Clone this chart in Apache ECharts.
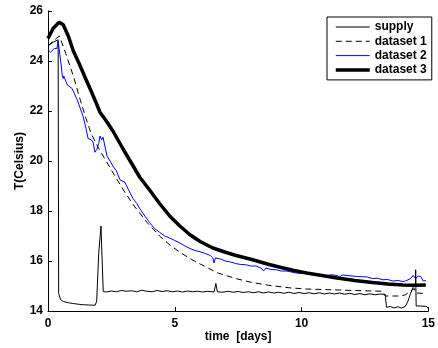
<!DOCTYPE html>
<html>
<head>
<meta charset="utf-8">
<script src="https://cdn.jsdelivr.net/npm/echarts@6/dist/echarts.min.js"></script>
<style>
html,body{margin:0;padding:0;background:#fff;}
#chart{width:438px;height:348px;}
</style>
</head>
<body>
<div id="chart"></div>
<script>
// Values: [time (days), temperature (Celsius)]
var seriesNames = ['supply', 'dataset 1', 'dataset 2', 'dataset 3'];
var xTicks = [0, 5, 10, 15];
var yTicks = [14, 16, 18, 20, 22, 24, 26];

var supply = [
  [0,24.6],[0.2,24.75],[0.4,24.85],[0.42,14.7],[0.5,14.45],[0.6,14.38],[0.8,14.33],[1.0,14.3],
  [1.2,14.27],[1.4,14.25],[1.6,14.24],[1.86,14.23],[1.92,14.4],[2.0,16.3],[2.09,17.4],[2.15,15.6],
  [2.18,14.78],[2.3,14.76],[2.5,14.8],[2.7,14.77],[2.9,14.82],[3.1,14.79],[3.3,14.81],[3.5,14.77],
  [3.7,14.83],[3.9,14.79],[4.1,14.77],[4.3,14.82],[4.5,14.78],[4.7,14.81],[4.9,14.77],[5.1,14.8],
  [5.3,14.76],[5.5,14.8],[5.7,14.77],[5.9,14.79],[6.1,14.76],[6.3,14.79],[6.55,14.76],[6.62,15.1],
  [6.68,14.77],[6.9,14.75],[7.1,14.79],[7.3,14.75],[7.5,14.78],[7.7,14.74],[7.9,14.77],[8.1,14.73],
  [8.3,14.77],[8.5,14.72],[8.7,14.76],[8.9,14.72],[9.1,14.75],[9.3,14.71],[9.5,14.75],[9.7,14.7],
  [9.9,14.74],[10.1,14.7],[10.3,14.73],[10.5,14.69],[10.7,14.73],[10.9,14.68],[11.1,14.72],[11.3,14.68],
  [11.5,14.72],[11.7,14.67],[11.9,14.71],[12.1,14.66],[12.3,14.7],[12.5,14.65],[12.7,14.69],[12.9,14.65],
  [13.1,14.68],[13.3,14.66],[13.35,14.15],[13.5,14.18],[13.65,14.12],[13.8,14.17],[13.95,14.12],[14.09,14.18],
  [14.2,14.4],[14.3,14.7],[14.42,15.0],[14.5,15.0],[14.5,15.65],[14.52,14.2],[14.7,14.2],[14.95,14.18],[15.0,14.1]
];

var dataset1 = [
  [0,24.6],[0.2,24.8],[0.45,25.0],[0.7,24.3],[1.0,23.4],[1.27,22.45],[1.5,21.7],[1.7,21.1],
  [2.0,20.5],[2.32,19.95],[2.64,19.4],[3.0,18.8],[3.4,18.2],[3.9,17.55],[4.4,17.0],[4.8,16.65],
  [5.2,16.35],[5.6,16.1],[6.0,15.88],[6.7,15.52],[7.4,15.3],[8.0,15.15],[8.7,15.03],[9.5,14.93],
  [10.2,14.88],[10.8,14.86],[11.5,14.84],[12.1,14.82],[12.8,14.8],[13.2,14.79],[13.3,14.6],[13.9,14.6],
  [14.1,14.65],[14.3,14.8],[14.45,14.9],[14.5,14.72],[14.9,14.7]
];

var dataset2 = [
  [0,24.45],[0.1,24.35],[0.17,24.33],[0.25,24.5],[0.29,24.57],[0.35,24.5],[0.4,24.8],[0.5,24.0],
  [0.56,23.45],[0.6,23.3],[0.62,23.4],[0.76,23.05],[0.95,22.9],[1.15,22.45],[1.38,21.8],[1.5,21.3],
  [1.58,20.9],[1.7,20.85],[1.78,20.75],[1.85,20.35],[1.93,20.47],[2.0,20.7],[2.05,21.0],[2.12,20.85],
  [2.17,20.95],[2.33,20.19],[2.45,20.0],[2.56,19.8],[2.7,19.6],[2.84,19.25],[3.03,19.15],[3.2,18.8],
  [3.35,18.5],[3.5,18.3],[3.65,18.05],[3.82,17.8],[4.0,17.55],[4.2,17.3],[4.4,17.15],[4.6,17.0],
  [4.8,16.92],[5.0,16.82],[5.2,16.72],[5.4,16.6],[5.6,16.5],[5.8,16.42],[6.0,16.37],[6.2,16.3],
  [6.4,16.22],[6.5,16.12],[6.55,15.92],[6.6,16.12],[6.8,16.08],[7.0,16.0],[7.2,15.96],[7.4,15.9],
  [7.6,15.86],[7.8,15.85],[8.0,15.8],[8.2,15.8],[8.4,15.72],[8.5,15.6],[8.6,15.72],[8.8,15.66],
  [9.0,15.65],[9.2,15.6],[9.4,15.6],[9.6,15.56],[9.8,15.52],[10.0,15.5],[10.2,15.5],[10.4,15.47],
  [10.6,15.5],[10.8,15.44],[11.0,15.42],[11.2,15.45],[11.4,15.42],[11.5,15.36],[11.6,15.44],[11.8,15.42],
  [12.0,15.4],[12.2,15.38],[12.4,15.37],[12.6,15.36],[12.8,15.3],[13.0,15.31],[13.2,15.25],[13.4,15.26],
  [13.6,15.2],[13.8,15.22],[14.0,15.18],[14.1,15.2],[14.3,15.3],[14.4,15.42],[14.5,15.3],[14.6,15.4],
  [14.7,15.38],[14.8,15.2],[14.9,15.22]
];

var dataset3 = [
  [0,24.9],[0.2,25.3],[0.44,25.55],[0.6,25.45],[0.8,25.0],[1.0,24.4],[1.25,23.85],[1.46,23.35],
  [1.7,22.8],[1.93,22.25],[2.05,21.95],[2.3,21.6],[2.56,21.2],[2.95,20.5],[3.3,19.9],[3.62,19.35],
  [4.0,18.85],[4.4,18.3],[4.8,17.8],[5.2,17.4],[5.6,17.05],[6.0,16.78],[6.5,16.52],[7.0,16.35],
  [7.42,16.22],[8.0,16.07],[8.72,15.86],[9.2,15.74],[9.7,15.62],[10.2,15.52],[10.8,15.42],[11.4,15.32],
  [12.1,15.22],[12.8,15.14],[13.4,15.08],[14.0,15.04],[14.5,15.03],[14.9,15.04]
];

var font = 'Liberation Sans, Arial, Helvetica, sans-serif';
var lineWidths = [1, 1, 1, 3.5];
var lineTypes = ['solid', [6, 4], 'solid', 'solid'];
var lineColors = ['#000', '#000', '#0000ff', '#000'];

var chart = echarts.init(document.getElementById('chart'), null, {renderer: 'canvas'});
chart.setOption({
  animation: false,
  backgroundColor: '#ffffff',
  grid: {left: 48, right: 8, top: 11, bottom: 35, containLabel: false},
  legend: {
    orient: 'vertical',
    left: 327, top: 17,
    data: seriesNames.map(function (n, i) {
      return {name: n, itemStyle: {opacity: 0},
        lineStyle: {width: lineWidths[i], type: lineTypes[i], color: lineColors[i]}};
    }),
    itemWidth: 34, itemHeight: 12, itemGap: 2.3,
    padding: [4, 5, 4, 7],
    borderColor: '#000', borderWidth: 1, borderRadius: 0,
    backgroundColor: '#fff',
    itemStyle: {opacity: 0},
    textStyle: {fontFamily: font, fontWeight: 'bold', fontSize: 12, color: '#000'}
  },
  xAxis: {
    type: 'value', min: xTicks[0], max: xTicks[xTicks.length - 1], interval: 5,
    name: 'time  [days]', nameLocation: 'middle', nameGap: 20, nameMoveOverlap: false,
    nameTextStyle: {fontFamily: font, fontWeight: 'bold', fontSize: 12, color: '#000'},
    axisLine: {show: true, lineStyle: {color: '#000', width: 1}},
    axisTick: {show: true, inside: true, length: 4, lineStyle: {color: '#000'}},
    axisLabel: {fontFamily: font, fontWeight: 'bold', fontSize: 12, color: '#000', margin: 7},
    splitLine: {show: false}
  },
  yAxis: {
    type: 'value', min: yTicks[0], max: yTicks[yTicks.length - 1], interval: 2,
    name: 'T(Celsius)', nameLocation: 'middle', nameGap: 22, nameRotate: 90, nameMoveOverlap: false,
    nameTextStyle: {fontFamily: font, fontWeight: 'bold', fontSize: 12, color: '#000'},
    axisLine: {show: true, lineStyle: {color: '#000', width: 1}},
    axisTick: {show: true, inside: true, length: 4, lineStyle: {color: '#000'}},
    axisLabel: {fontFamily: font, fontWeight: 'bold', fontSize: 12, color: '#000', margin: 5},
    splitLine: {show: false}
  },
  series: [
    {name: seriesNames[0], type: 'line', data: supply, symbol: 'none', color: lineColors[0],
     lineStyle: {color: lineColors[0], width: lineWidths[0], type: lineTypes[0]}},
    {name: seriesNames[1], type: 'line', data: dataset1, symbol: 'none', color: lineColors[1],
     lineStyle: {color: lineColors[1], width: lineWidths[1], type: lineTypes[1]}},
    {name: seriesNames[2], type: 'line', data: dataset2, symbol: 'none', color: lineColors[2],
     lineStyle: {color: lineColors[2], width: lineWidths[2], type: lineTypes[2]}},
    {name: seriesNames[3], type: 'line', data: dataset3, symbol: 'none', color: lineColors[3],
     lineStyle: {color: lineColors[3], width: lineWidths[3], type: lineTypes[3]}}
  ]
});
</script>
</body>
</html>
